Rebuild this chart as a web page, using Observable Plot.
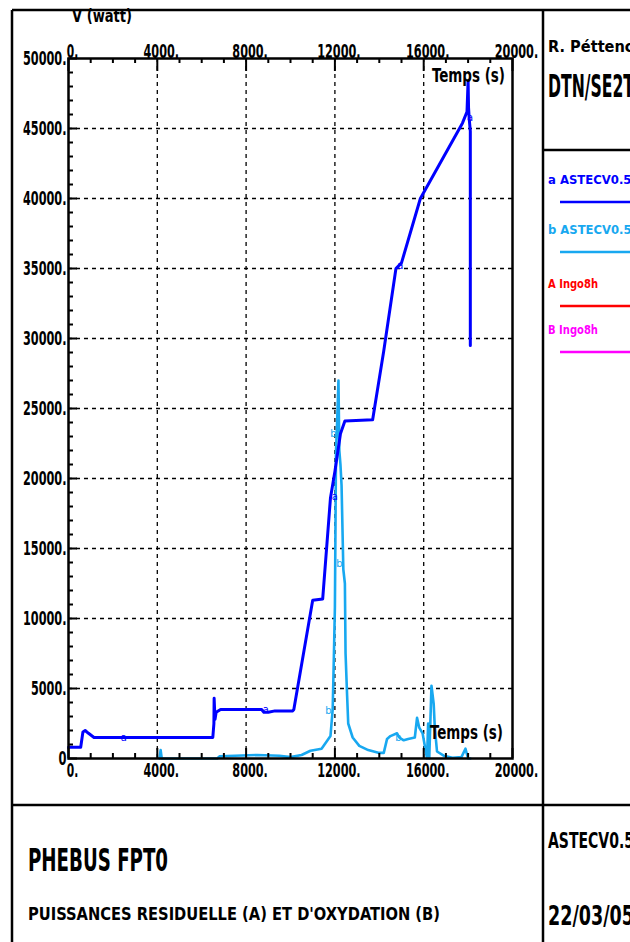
<!DOCTYPE html>
<html><head><meta charset="utf-8">
<script src="https://cdn.jsdelivr.net/npm/d3@7"></script>
<script src="https://cdn.jsdelivr.net/npm/@observablehq/plot@0.6"></script>
<style>
body{margin:0;background:#fff;}
#chart{width:630px;height:942px;overflow:hidden;position:relative;}
</style></head><body><div id="chart"></div>
<script>
// ---- data ----
const timeA  = [0,550,650,750,900,1150,6500,6550,6560,6600,6650,6850,8700,8800,9000,9300,10100,10150,11000,11450,11800,12000,12250,12450,13700,14200,14750,15000,15850,17750,17950,18000,18020,18050,18100,18100];
const powerA = [800,800,1900,2000,1800,1500,1500,2500,4300,2800,3300,3500,3500,3300,3300,3400,3400,3500,11300,11400,18600,20500,23200,24100,24200,29100,35000,35400,40000,45400,46200,48400,46500,45700,44800,29500];

const timeB  = [4100,4150,4200,6700,6800,7500,8500,9500,10000,10500,10900,11400,11800,11900,11950,12000,12050,12100,12160,12200,12250,12300,12380,12450,12480,12550,12600,12800,13100,13500,14000,14200,14350,14500,14800,14900,15100,15300,15600,15700,15800,15950,16150,16200,16250,16350,16450,16500,16600,16900,17300,17700,17880,18000,18100];
const powerB = [0,600,0,0,150,200,250,200,100,250,550,700,1600,3500,7000,10800,22000,24000,27000,22000,21000,19500,13500,12500,7500,4500,2500,1500,900,600,400,400,1400,1600,1800,1500,1300,1400,1500,2900,2200,1800,0,2500,0,5200,3900,2200,500,200,50,100,700,0,0];

const markTimeA  = [2400,8800,11900,14850,18000];
const markPowerA = [1500,3500,18700,35200,45800];
const markTimeB  = [11890,12117,12387,15045];
const markPowerB = [3400,23200,13900,1500];

const xTicks = [0,4000,8000,12000,16000,20000];
const xTickLabels = ["0.","4000.","8000.","12000.","16000.","20000."];
const yTicks = [0,5000,10000,15000,20000,25000,30000,35000,40000,45000,50000];
const yTickLabels = ["0","5000.","10000.","15000.","20000.","25000.","30000.","35000.","40000.","45000.","50000."];
const gridX = [4000,8000,12000,16000];
const gridY = [5000,10000,15000,20000,25000,30000,35000,40000,45000];

const seriesNames  = ["a ASTECV0.5.m","b ASTECV0.5.m","A Ingo8h","B Ingo8h"];
const seriesColors = ["#0000ff","#18a8f0","#ff0000","#ff00ff"];

const title = "PHEBUS FPT0";
const subtitle = "PUISSANCES RESIDUELLE (A) ET D'OXYDATION (B)";
const author = "R. Péttencourt";
const dept = "DTN/SE2T";
const code = "ASTECV0.5";
const date = "22/03/05";
const yLabel = "V (watt)";
const xLabel = "Temps (s)";

// ---- build ----
const dataA = timeA.map((t,i)=>({t, p: powerA[i]}));
const dataB = timeB.map((t,i)=>({t, p: powerB[i]}));
const marksA = markTimeA.map((t,i)=>({t, p: markPowerA[i]}));
const marksB = markTimeB.map((t,i)=>({t, p: markPowerB[i]}));
const minorX = d3.range(0, 20001, 1000);
const minorY = d3.range(0, 50001, 1000);
const FONT = "'Liberation Sans Narrow','DejaVu Sans Condensed','DejaVu Sans',sans-serif";

const W = 630, H = 942, ML = 68, MR = 118, MT = 58, MB = 184;
const plotW = W-ML-MR, plotH = H-MT-MB;

const chart = Plot.plot({
  width: W, height: H,
  marginLeft: ML, marginRight: MR, marginTop: MT, marginBottom: MB,
  x: {domain: [0,20000], axis: null},
  y: {domain: [0,50000], axis: null},
  style: {background: "white", fontFamily: FONT},
  marks: [
    Plot.ruleX(gridX, {x: d=>d, stroke: "#000", strokeWidth: 1.3, strokeDasharray: "4,4"}),
    Plot.ruleY(gridY, {y: d=>d, stroke: "#000", strokeWidth: 1.3, strokeDasharray: "4,4"}),
    Plot.line(dataB, {x: "t", y: "p", stroke: seriesColors[1], strokeWidth: 2.6}),
    Plot.line(dataA, {x: "t", y: "p", stroke: seriesColors[0], strokeWidth: 3}),
    Plot.text(marksA, {x: "t", y: "p", text: d=>"a", fill: seriesColors[0], fontSize: 11, fontFamily: FONT, dx: 2}),
    Plot.text(marksB, {x: "t", y: "p", text: d=>"b", fill: seriesColors[1], fontSize: 11, fontFamily: FONT, dx: -4}),
    // ticks (inward)
    Plot.tickX(minorX.filter(d=>d%4000), {x: d=>d, stroke: "#000", strokeWidth: 2, insetTop: plotH-5}),
    Plot.tickX(xTicks, {x: d=>d, stroke: "#000", strokeWidth: 2, insetTop: plotH-10}),
    Plot.tickX(minorX.filter(d=>d%4000), {x: d=>d, stroke: "#000", strokeWidth: 2, insetBottom: plotH-5}),
    Plot.tickX(xTicks, {x: d=>d, stroke: "#000", strokeWidth: 2, insetBottom: plotH-13}),
    Plot.tickY(minorY.filter(d=>d%5000), {y: d=>d, stroke: "#000", strokeWidth: 2, insetRight: plotW-5}),
    Plot.tickY(yTicks, {y: d=>d, stroke: "#000", strokeWidth: 2, insetRight: plotW-9}),
    Plot.frame({stroke: "#000", strokeWidth: 2.5}),
    // tick labels
    Plot.text(xTicks, {x: d=>d, text: (d,i)=>xTickLabels[i], frameAnchor: "top", dy: -14, dx: 4, fontSize: 19, fontWeight: "bold", fontFamily: FONT, fill: "#000"}),
    Plot.text(xTicks, {x: d=>d, text: (d,i)=>xTickLabels[i], frameAnchor: "bottom", dy: 18, dx: 4, fontSize: 19, fontWeight: "bold", fontFamily: FONT, fill: "#000"}),
    Plot.text(yTicks, {y: d=>d, text: (d,i)=>yTickLabels[i], frameAnchor: "left", textAnchor: "end", dx: -2, dy: 0, fontSize: 19, fontWeight: "bold", fontFamily: FONT, fill: "#000"})
  ]
});

document.getElementById("chart").appendChild(chart);

const svg = d3.select(chart);
// condense numeric tick labels like the narrow plotter font
svg.selectAll("text").filter(function(){ return /^[0-9.]+$/.test(this.textContent); })
  .each(function(){
    const s = this.textContent;
    const digits = s.replace(/\./g,"").length, dots = s.length - digits;
    d3.select(this).attr("textLength", digits*8 + dots*3.5).attr("lengthAdjust", "spacingAndGlyphs");
  });

// ---- layout frame and block texts ----
const g = svg.append("g").attr("fill", "#000").attr("font-family", FONT).attr("font-weight", "bold").attr("text-anchor", "start");
const lines = [
  [12,10,632,10],[12,10,12,944],[543,10,543,944],[12,805,632,805],[543,150,632,150]
];
g.selectAll("line.frame").data(lines).join("line")
  .attr("x1", d=>d[0]).attr("y1", d=>d[1]).attr("x2", d=>d[2]).attr("y2", d=>d[3])
  .attr("stroke", "#000").attr("stroke-width", 2.5);

function txt(s, x, y, size, len, fill="#000") {
  const t = g.append("text").attr("x", x).attr("y", y).attr("font-size", size).attr("fill", fill)
    .attr("text-anchor", "start").text(s);
  if (len) t.attr("textLength", len).attr("lengthAdjust", "spacingAndGlyphs");
  return t;
}
txt(yLabel, 72, 22, 18, 60);
txt(xLabel, 432, 82, 20, 73);
txt(xLabel, 430, 739, 20, 73);
txt(author, 548, 52, 15, 120);
txt(dept, 548, 97, 32, 86);
txt(title, 28, 871, 32, 140);
txt(subtitle, 28, 920, 18, 412);
txt(code, 548, 848, 22, 86);
txt(date, 548, 925, 26, 86);

// legend
const legY = [184, 234, 288, 334];
const legLen = [100, 100, 50, 50];
seriesNames.forEach((s,i)=>{
  txt(s, 548, legY[i], 13, legLen[i], seriesColors[i]);
  g.append("line").attr("x1", 560).attr("x2", 632).attr("y1", legY[i]+18).attr("y2", legY[i]+18)
    .attr("stroke", seriesColors[i]).attr("stroke-width", 2.5);
});
</script>
</body></html>
